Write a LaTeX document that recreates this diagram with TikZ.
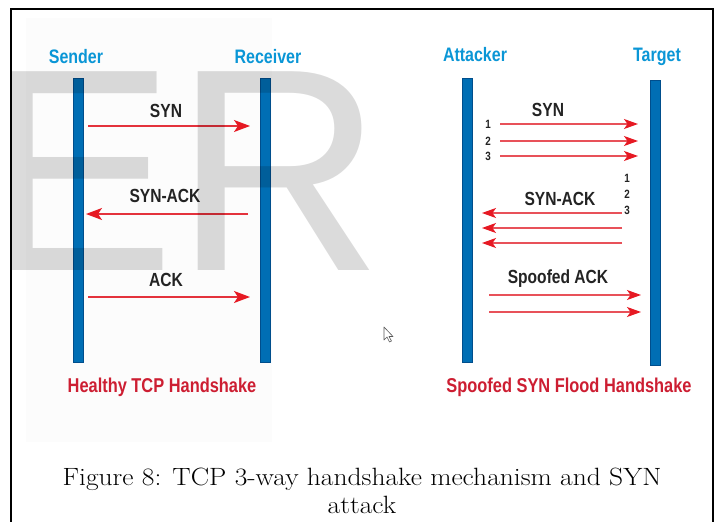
\documentclass[tikz,border=0pt]{standalone}
\usepackage{fontspec}
\usetikzlibrary{arrows.meta}

\newfontfamily\narrowfont{Liberation Sans}[FakeStretch=0.82]
\newfontfamily\markfont{Liberation Sans}
\newfontfamily\captionfont{Latin Modern Roman}[FakeStretch=1.1]

\definecolor{hostblue}{RGB}{10,150,214}
\definecolor{barblue}{RGB}{0,110,180}
\definecolor{baredge}{RGB}{0,78,140}
\definecolor{msgred}{RGB}{228,50,60}
\definecolor{tipred}{RGB}{230,25,35}
\definecolor{titlered}{RGB}{205,30,50}
\definecolor{labelgray}{RGB}{35,35,35}
\definecolor{panelgray}{RGB}{252,252,252}

\tikzset{
  hostlabel/.style={text=hostblue, inner sep=0pt, font=\narrowfont\bfseries\fontsize{19.5}{20}\selectfont},
  msglabel/.style={text=labelgray, inner sep=0pt, font=\narrowfont\bfseries\fontsize{19}{20}\selectfont},
  seqnum/.style={text=labelgray, inner sep=0pt, font=\narrowfont\bfseries\fontsize{12}{12}\selectfont},
  casetitle/.style={text=titlered, inner sep=0pt, font=\narrowfont\bfseries\fontsize{20}{20}\selectfont},
  lifeline/.style={fill=barblue, draw=baredge, line width=1pt},
  msg/.style={draw=msgred, line width=1.3pt, -{Stealth[length=16pt,width=12pt,inset=4pt,color=tipred]}},
  flood/.style={draw=msgred!85!white, line width=1.2pt, -{Stealth[length=14pt,width=10pt,inset=3.5pt,color=tipred]}},
}

\begin{document}
\begin{tikzpicture}[x=1pt,y=-1pt]
\useasboundingbox (0,0) rectangle (716,522);
\fill[white] (0,0) rectangle (716,522);
\fill[panelgray] (26,18) rectangle (272,442);

% healthy handshake
\node[hostlabel] (sender) at (76,57) {Sender};
\node[hostlabel] (receiver) at (268,57) {Receiver};
\draw[lifeline] (73,78) rectangle (83,362);
\draw[lifeline] (260,78) rectangle (270,362);

\coordinate (s1) at (88,126);
\coordinate (r1) at (250,126);
\coordinate (r2) at (248,214);
\coordinate (s2) at (86,214);
\coordinate (s3) at (88,297);
\coordinate (r3) at (250,297);

\draw[msg] (s1) -- (r1);
\draw[msg] (r2) -- (s2);
\draw[msg] (s3) -- (r3);
\node[msglabel] (syn) at (166,111) {SYN};
\node[msglabel] (synack) at (165,196) {SYN-ACK};
\node[msglabel] (ack) at (166,280) {ACK};

\node[casetitle] (healthy) at (162,387) {Healthy TCP Handshake};

% spoofed flood
\node[hostlabel] (attacker) at (475,55) {Attacker};
\node[hostlabel] (target) at (657,57) {Target};
\draw[lifeline] (462,78) rectangle (472,362);
\draw[lifeline] (650,80) rectangle (660,365);

\node[msglabel] (fsyn) at (548,110) {SYN};
\foreach \i/\y in {1/124,2/141,3/156} {
  \coordinate (a\i) at (500,\y);
  \coordinate (t\i) at (638,\y);
  \draw[flood] (a\i) -- (t\i);
  \node[seqnum] (n\i) at (488,\y) {\i};
}

\node[msglabel] (fsynack) at (560,199) {SYN-ACK};
\foreach \i/\y/\ny in {1/213/178,2/228/194,3/243/210} {
  \coordinate (b\i) at (622,\y);
  \coordinate (c\i) at (482,\y);
  \draw[flood] (b\i) -- (c\i);
  \node[seqnum] (m\i) at (627,\ny) {\i};
}

\node[msglabel] (spoof) at (558,279) {Spoofed ACK};
\coordinate (d1) at (489,295);
\coordinate (e1) at (641,295);
\coordinate (d2) at (489,312);
\coordinate (e2) at (641,312);
\draw[flood] (d1) -- (e1);
\draw[flood] (d2) -- (e2);

\node[casetitle] (spoofed) at (569,387) {Spoofed SYN Flood Handshake};

% pointer
\draw[black!65, fill=white, line width=0.6pt, line join=round]
  (384,327) -- (384,340) -- (387,337) -- (389.5,342) -- (391.5,341) -- (389,336.5) -- (393,336.5) -- cycle;

% watermark
\begin{scope}
\clip (12,10) rectangle (712,522);
\node[anchor=base west, inner sep=0pt, text=black, text opacity=0.14,
  font=\markfont\fontsize{289}{289}\selectfont] (mark) at (-18,270) {ER};
\end{scope}

% caption
\node[font=\captionfont\fontsize{25}{28}\selectfont, align=center, inner sep=0pt, anchor=base]
  (caption) at (362,513) {Figure 8: TCP 3-way handshake mechanism and SYN\\attack};

% frame
\draw[line width=2pt] (11,522) -- (11,9) -- (713,9) -- (713,522);
\end{tikzpicture}
\end{document}
